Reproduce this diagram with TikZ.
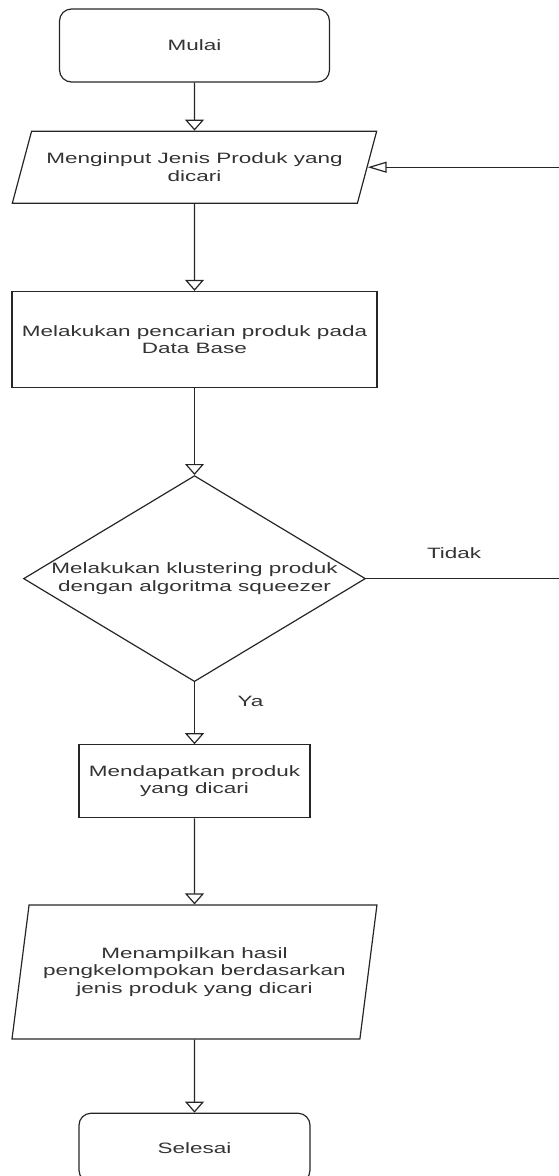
\documentclass[tikz,border=0pt]{standalone}
\usepackage{fontspec}
\setmainfont{Liberation Sans}[FakeStretch=1.5]
\usetikzlibrary{arrows.meta, positioning, shapes.geometric}

\begin{document}
\begin{tikzpicture}[x=1pt, y=-1pt,
        base/.style={draw=black!85, line width=1.2pt, align=center, font=\fontsize{15}{17.5}\selectfont, text=black!80},
        term/.style={base, rectangle, rounded corners=12pt, minimum width=270pt, minimum height=73pt},
        proc/.style={base, rectangle, minimum width=365pt, minimum height=96pt},
        io/.style={base, trapezium, trapezium stretches=true, minimum width=365pt, minimum height=72pt,
            trapezium left angle=63, trapezium right angle=117},
        dec/.style={base, diamond, aspect=1.66, inner sep=0pt, minimum width=342pt, minimum height=206pt},
        lbl/.style={font=\fontsize{15}{17.5}\selectfont, text=black!80},
        flow/.style={draw=black!85, line width=1.2pt, -{Triangle[open, length=11pt, width=19pt]}},
        back/.style={draw=black!85, line width=1.2pt, -{Triangle[open, length=19pt, width=11pt]}}
    ]
        \useasboundingbox (0,0) rectangle (558,1176);

        \node[term] (start) at (194.5,45.5) {Mulai};
        \node[io, below=48pt of start] (input) {Menginput Jenis Produk yang\\dicari};
        \node[proc, below=87pt of input] (search) {Melakukan pencarian produk pada\\Data Base};
        \node[dec, below=87pt of search] (cluster) {Melakukan klustering produk\\dengan algoritma squeezer};
        \node[term, rounded corners=0pt, minimum width=231pt, below=62pt of cluster] (found) {Mendapatkan produk\\yang dicari};
        \node[io, minimum height=134pt, trapezium left angle=74, trapezium right angle=106,
            below=86pt of found] (show) {Menampilkan hasil\\pengkelompokan berdasarkan\\jenis produk yang dicari};
        \node[term, minimum width=231pt, minimum height=69pt, below=73pt of show] (stop) {Selesai};

        \coordinate (turn) at ([xshift=215pt]cluster.east);

        \draw[flow] (start) -- (input);
        \draw[flow] (input) -- (search);
        \draw[flow] (search) -- (cluster);
        \draw[flow] (cluster) -- (found);
        \draw[flow] (found) -- (show);
        \draw[flow] (show) -- (stop);
        \draw[back] (cluster.east) -- (turn) |- (input.east);

        \node[lbl] (no) at ([xshift=88pt, yshift=25pt]cluster.east) {Tidak};
        \node[lbl] (yes) at ([xshift=56pt, yshift=-19pt]cluster.south) {Ya};
    \end{tikzpicture}
\end{document}
